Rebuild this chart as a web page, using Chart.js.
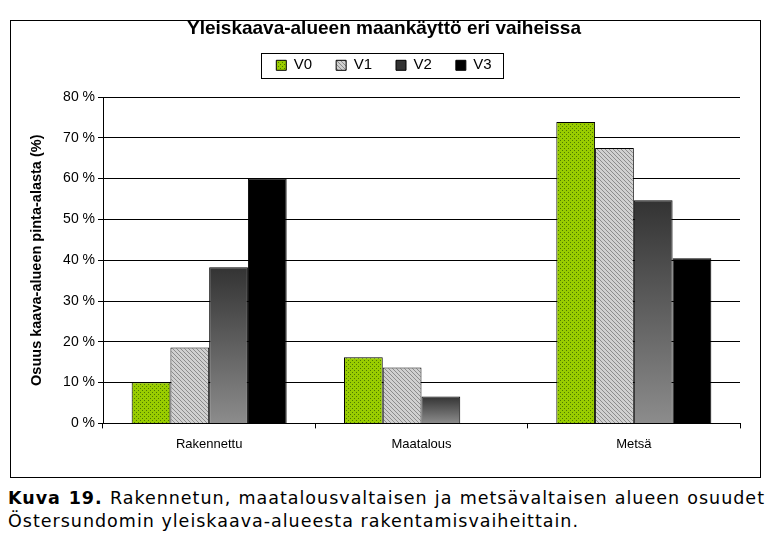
<!DOCTYPE html>
<html>
<head>
<meta charset="utf-8">
<script src="https://cdn.jsdelivr.net/npm/chart.js@4"></script>
<style>
  body { margin: 0; background: #fff; width: 780px; height: 541px; overflow: hidden; }
  #wrap { position: absolute; left: 0; top: 0; width: 780px; height: 480px; }
  .cap { position: absolute; left: 8px; width: 757px; font-family: "DejaVu Sans", Verdana, sans-serif;
    font-size: 17.5px; line-height: 23px; color: #000; letter-spacing: 1px; white-space: nowrap; }
  #cap1 { top: 487px; text-align: justify; text-align-last: justify; }
  #cap2 { top: 510px; }
</style>
</head>
<body>
<div id="wrap"><canvas id="chart" width="780" height="480"></canvas></div>
<div class="cap" id="cap1"><b>Kuva 19.</b> Rakennetun, maatalousvaltaisen ja metsävaltaisen alueen osuudet</div>
<div class="cap" id="cap2">Östersundomin yleiskaava-alueesta rakentamisvaiheittain.</div>
<script>
// data
const kategoriat = ['Rakennettu', 'Maatalous', 'Metsä'];
const sarjat = ['V0', 'V1', 'V2', 'V3'];
const v0 = [10.1, 16.2, 73.9];
const v1 = [18.6, 13.7, 67.5];
const v2 = [38.3, 6.6, 54.7];
const v3 = [60.0, 0, 40.5];
const yTicks = [0, 10, 20, 30, 40, 50, 60, 70, 80];

const FONT = '"Liberation Sans", Arial, sans-serif';
const ctx = document.getElementById('chart').getContext('2d');

// kuviot
function pisteKuvio() {
  const c = document.createElement('canvas');
  c.width = 4; c.height = 4;
  const g = c.getContext('2d');
  g.fillStyle = '#99cc00';
  g.fillRect(0, 0, 4, 4);
  g.fillStyle = '#4d7a00';
  g.fillRect(0, 0, 1, 1);
  g.fillRect(2, 2, 1, 1);
  return ctx.createPattern(c, 'repeat');
}
function raitaKuvio() {
  const c = document.createElement('canvas');
  c.width = 4; c.height = 4;
  const g = c.getContext('2d');
  g.fillStyle = '#d0d0d0';
  g.fillRect(0, 0, 4, 4);
  g.fillStyle = '#8c8c8c';
  for (let i = 0; i < 4; i++) g.fillRect(i, i, 1, 1);
  return ctx.createPattern(c, 'repeat');
}
function liukuVari(c) {
  if (c.type !== 'data') return '#606060';
  const y = c.chart.scales.y;
  const top = y.getPixelForValue(c.raw);
  const bot = y.getPixelForValue(0);
  if (!isFinite(top) || top === bot) return '#606060';
  const g = c.chart.ctx.createLinearGradient(0, top, 0, bot);
  g.addColorStop(0, '#333333');
  g.addColorStop(1, '#8c8c8c');
  return g;
}

// kehys + selitteen laatikko
const kehys = {
  id: 'kehys',
  afterDraw(chart) {
    const g = chart.ctx;
    g.save();
    g.strokeStyle = '#000';
    g.lineWidth = 1;
    g.strokeRect(10.5, 20.5, 750, 457);
    const lg = chart.legend;
    if (lg && lg.legendHitBoxes.length) {
      const b = lg.legendHitBoxes;
      const last = b[b.length - 1];
      const x1 = b[0].left - 15, x2 = last.left + last.width + 12;
      const cy = b[0].top + b[0].height / 2;
      g.strokeRect(Math.round(x1) + 0.5, Math.round(cy - 12.5) + 0.5, Math.round(x2 - x1), 25);
    }
    g.restore();
  }
};

new Chart(ctx, {
  type: 'bar',
  data: {
    labels: kategoriat,
    datasets: [
      { label: sarjat[0], data: v0, backgroundColor: pisteKuvio() },
      { label: sarjat[1], data: v1, backgroundColor: raitaKuvio() },
      { label: sarjat[2], data: v2, backgroundColor: liukuVari },
      { label: sarjat[3], data: v3, backgroundColor: '#000' }
    ]
  },
  options: {
    responsive: false,
    animation: false,
    layout: { padding: { left: 28, right: 40, top: 17, bottom: 20 } },
    datasets: {
      bar: { borderColor: '#000', borderWidth: 1, categoryPercentage: 0.73, barPercentage: 1 }
    },
    plugins: {
      title: {
        display: true,
        text: 'Yleiskaava-alueen maankäyttö eri vaiheissa',
        color: '#000',
        font: { family: FONT, size: 19, weight: 'bold' },
        padding: { top: 0, bottom: -6 }
      },
      // tyhjä väli selitteen ja kuvaajan välissä
      subtitle: {
        display: true,
        text: '',
        weight: 500,
        font: { size: 1 },
        padding: { top: 0, bottom: 13 }
      },
      legend: {
        display: true,
        labels: {
          color: '#000',
          boxWidth: 10, boxHeight: 10,
          font: { family: FONT, size: 15 },
          padding: 24
        }
      },
      tooltip: { enabled: false }
    },
    scales: {
      x: {
        offset: true,
        grid: { offset: true, drawOnChartArea: false, color: '#000', tickLength: 5 },
        border: { color: '#000' },
        ticks: { color: '#000', padding: 8, font: { family: FONT, size: 13 } }
      },
      y: {
        min: 0, max: 80,
        afterBuildTicks: s => { s.ticks = yTicks.map(v => ({ value: v })); },
        afterFit: s => { s.width = 75; },
        grid: { color: '#000', tickLength: 5 },
        border: { color: '#000' },
        ticks: { color: '#000', padding: 3, callback: v => v + ' %', font: { family: FONT, size: 14 } },
        title: {
          display: true,
          text: 'Osuus kaava-alueen pinta-alasta (%)',
          color: '#000',
          padding: 0,
          font: { family: FONT, size: 14.5, weight: 'bold' }
        }
      }
    }
  },
  plugins: [kehys]
});
</script>
</body>
</html>
